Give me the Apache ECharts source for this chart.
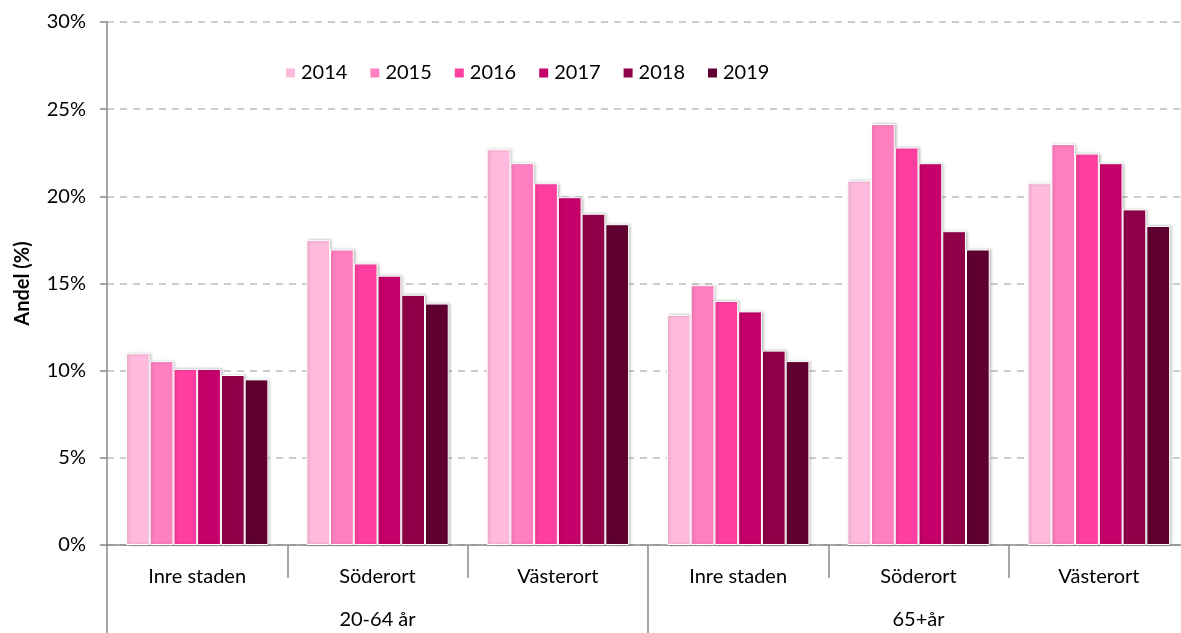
<!DOCTYPE html>
<html>
<head>
<meta charset="utf-8">
<script src="https://cdn.jsdelivr.net/npm/echarts@6/dist/echarts.min.js"></script>
<style>
  html, body { margin: 0; padding: 0; background: #fff; }
  #chart { width: 1181px; height: 633px; }
</style>
</head>
<body>
<div id="chart"></div>
<script>
// data
const areas = ["Inre staden", "Söderort", "Västerort", "Inre staden", "Söderort", "Västerort"];
const ageGroups = ["20-64 år", "65+år"];
const years = ["2014", "2015", "2016", "2017", "2018", "2019"];

const v2014 = [11.0, 17.5, 22.7, 13.2, 20.9, 20.75];
const v2015 = [10.55, 16.95, 21.9, 14.9, 24.15, 23.0];
const v2016 = [10.1, 16.15, 20.75, 14.0, 22.8, 22.45];
const v2017 = [10.1, 15.45, 19.95, 13.4, 21.9, 21.9];
const v2018 = [9.75, 14.35, 19.0, 11.15, 18.0, 19.25];
const v2019 = [9.5, 13.85, 18.4, 10.55, 16.95, 18.3];

const yearValues = [v2014, v2015, v2016, v2017, v2018, v2019];
const colors = ["#FFBBDD", "#FF80C0", "#FF3FA0", "#C6006A", "#900048", "#600030"];

const chart = echarts.init(document.getElementById("chart"));
const font = "Lato, 'Open Sans', sans-serif";
const axisGrey = "#8a8a8a";

const option = {
  animation: false,
  textStyle: { fontFamily: font },
  // plot runs a little past the right edge of the picture
  grid: { left: 107, right: -8, top: 22, bottom: 88, outerBoundsMode: "none" },
  legend: {
    data: years,
    left: 279,
    top: 58,
    itemWidth: 11,
    itemHeight: 11,
    itemGap: 21,
    icon: "rect",
    textStyle: { fontSize: 20, color: "#000", fontFamily: font }
  },
  xAxis: [
    {
      type: "category",
      data: areas,
      axisLine: { lineStyle: { color: axisGrey, width: 1.5 } },
      axisTick: { show: true, length: 33, interval: 0, lineStyle: { color: axisGrey, width: 1.5 } },
      axisLabel: { interval: 0, margin: 22, fontSize: 20, color: "#000", fontFamily: font }
    },
    {
      type: "category",
      data: ageGroups,
      position: "bottom",
      axisLine: { show: false },
      axisTick: { show: true, length: 90, interval: 0, lineStyle: { color: axisGrey, width: 1.5 } },
      axisLabel: { interval: 0, margin: 65, fontSize: 20, color: "#000", fontFamily: font }
    }
  ],
  yAxis: {
    type: "value",
    min: 0,
    max: 30,
    interval: 5,
    name: "Andel (%)",
    nameLocation: "middle",
    nameGap: 74,
    nameTextStyle: { fontSize: 20, fontWeight: "bold", color: "#000", fontFamily: font },
    axisLine: { show: true, lineStyle: { color: axisGrey, width: 1.5 } },
    axisTick: { show: true, length: 7, lineStyle: { color: axisGrey, width: 1.5 } },
    axisLabel: { formatter: "{value}%", fontSize: 20, color: "#000", margin: 21, fontFamily: font },
    splitLine: { show: true, lineStyle: { color: "#bdbdbd", type: [7, 6], width: 1.5 } }
  },
  series: years.map((y, i) => ({
    name: y,
    type: "bar",
    xAxisIndex: 0,
    data: yearValues[i],
    barGap: "0%",
    barCategoryGap: "21%",
    itemStyle: {
      color: colors[i],
      borderColor: "#fff",
      borderWidth: 1,
      shadowBlur: 3,
      shadowColor: "rgba(0,0,0,0.25)",
      shadowOffsetX: 1.5,
      shadowOffsetY: 0
    }
  }))
};

chart.setOption(option);
</script>
</body>
</html>
